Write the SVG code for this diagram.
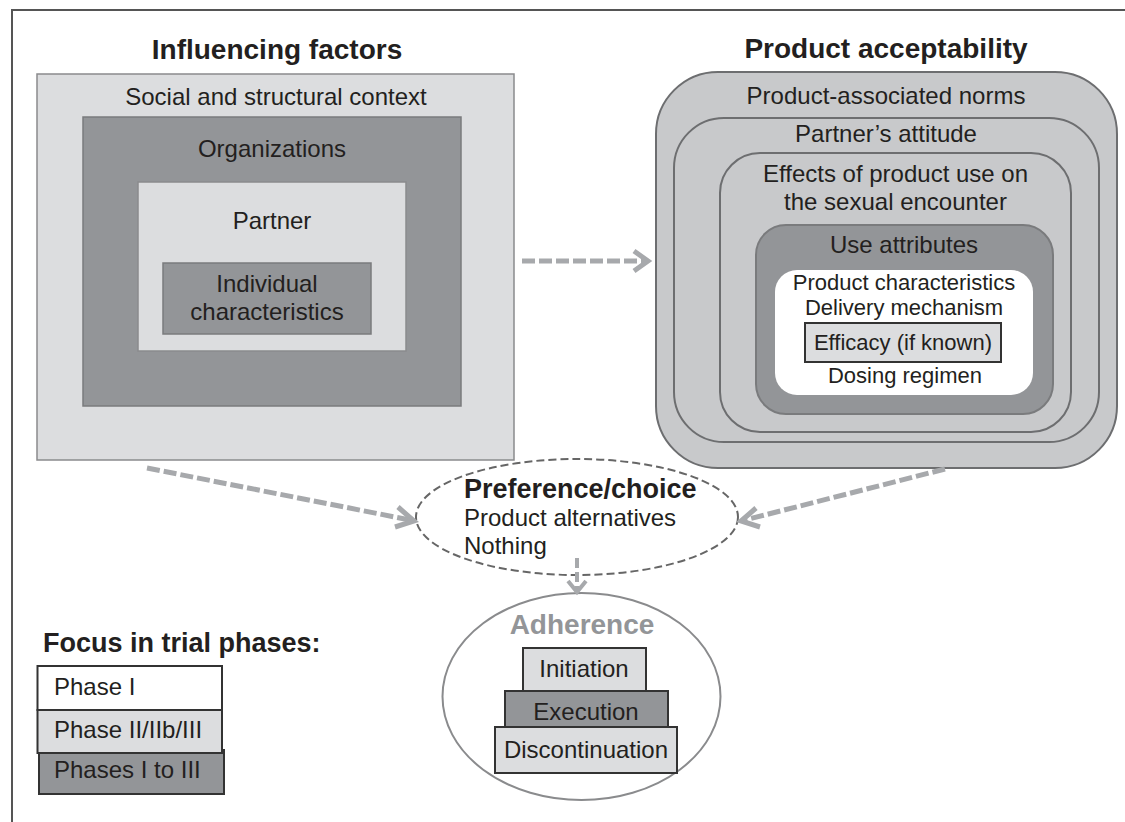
<svg xmlns="http://www.w3.org/2000/svg" width="1125" height="822" viewBox="0 0 1125 822">
<defs>
<style>
text{font-family:"Liberation Sans",Arial,sans-serif;fill:#231f20;}
.t24{font-size:24px;text-anchor:middle;}
.t22{font-size:22px;text-anchor:middle;}
.title{font-size:28px;font-weight:bold;text-anchor:middle;}
.lb{fill:#dcdddf;stroke:#8a8b8d;stroke-width:1.5;}
.db{fill:#939598;stroke:#7a7b7d;stroke-width:1.5;}
.ring{fill:#c8c9cb;stroke:#6d6e70;stroke-width:2;}
.step{stroke:#333;stroke-width:2;}
.conn{fill:none;stroke:#a7a9ac;stroke-width:5;stroke-dasharray:13 4;}
.head{fill:none;stroke:#a7a9ac;stroke-width:5;stroke-linejoin:miter;}
</style>
</defs>
<rect width="1125" height="822" fill="#ffffff"/>
<path d="M12,822 V10 H1125" fill="none" stroke="#555" stroke-width="2"/>

<g id="influencing-factors">
<text class="title" x="277" y="59">Influencing factors</text>
<g id="social-context">
<rect class="lb" x="37" y="74" width="477" height="386"/>
<text class="t24" x="276" y="105">Social and structural context</text>
</g>
<g id="organizations">
<rect class="db" x="83" y="117" width="378" height="289"/>
<text class="t24" x="272" y="157">Organizations</text>
</g>
<g id="partner">
<rect class="lb" x="138" y="182" width="268" height="169"/>
<text class="t24" x="272" y="229">Partner</text>
</g>
<g id="individual">
<rect class="db" x="163" y="263" width="208" height="71"/>
<text class="t24" x="267" y="292">Individual</text>
<text class="t24" x="267" y="320">characteristics</text>
</g>
</g>

<g id="product-acceptability">
<text class="title" x="886" y="58">Product acceptability</text>
<g id="norms">
<rect class="ring" x="656" y="72" width="461" height="396" rx="62" ry="62"/>
<text class="t24" x="886" y="104">Product-associated norms</text>
</g>
<g id="partners-attitude">
<rect class="ring" x="674" y="118" width="425" height="324" rx="50" ry="50"/>
<text class="t24" x="886" y="142">Partner’s attitude</text>
</g>
<g id="effects">
<rect class="ring" x="720" y="153" width="351" height="279" rx="40" ry="40"/>
<text class="t24" x="895.5" y="182">Effects of product use on</text>
<text class="t24" x="895.5" y="210">the sexual encounter</text>
</g>
<g id="use-attributes">
<rect x="756" y="225" width="297" height="189" rx="30" ry="30" fill="#939598" stroke="#7a7b7d" stroke-width="2"/>
<text class="t24" x="904" y="253">Use attributes</text>
</g>
<g id="product-characteristics">
<rect x="775" y="270" width="258" height="125" rx="22" ry="22" fill="#ffffff"/>
<text class="t22" x="904" y="290">Product characteristics</text>
<text class="t22" x="904" y="315">Delivery mechanism</text>
<rect x="805" y="323" width="196" height="39" fill="#dcdddf" stroke="#333" stroke-width="2"/>
<text class="t22" x="903" y="350">Efficacy (if known)</text>
<text class="t22" x="905" y="383">Dosing regimen</text>
</g>
</g>

<g id="preference">
<ellipse cx="577" cy="517" rx="161" ry="58" fill="#ffffff" stroke="#666" stroke-width="2" stroke-dasharray="8 4"/>
<text x="464" y="498" style="font-size:27px;font-weight:bold;">Preference/choice</text>
<text x="464" y="526" style="font-size:24px;">Product alternatives</text>
<text x="464" y="554" style="font-size:24px;">Nothing</text>
</g>

<g id="adherence">
<ellipse cx="581.5" cy="696.5" rx="139" ry="103.5" fill="#ffffff" stroke="#8a8b8d" stroke-width="2"/>
<text class="title" x="582" y="634" style="fill:#939598;">Adherence</text>
<g id="initiation">
<rect class="step" x="523" y="648" width="123" height="43" fill="#dcdddf"/>
<text class="t24" x="584" y="677">Initiation</text>
</g>
<g id="execution">
<rect class="step" x="505" y="691" width="163" height="36" fill="#939598"/>
<text class="t24" x="586" y="720">Execution</text>
</g>
<g id="discontinuation">
<rect class="step" x="495" y="727" width="182" height="46" fill="#dcdddf"/>
<text class="t24" x="586" y="758">Discontinuation</text>
</g>
</g>

<g id="legend">
<text x="43" y="652" style="font-size:27px;font-weight:bold;">Focus in trial phases:</text>
<g id="phases-1-3">
<rect class="step" x="39" y="750" width="185" height="44" fill="#939598"/>
<text x="54" y="778" style="font-size:24px;">Phases I to III</text>
</g>
<g id="phase-1">
<rect class="step" x="37.5" y="666" width="184.5" height="44" fill="#ffffff"/>
<text x="54" y="695" style="font-size:24px;">Phase I</text>
</g>
<g id="phase-2">
<rect class="step" x="37.5" y="710" width="184.5" height="43" fill="#dcdddf"/>
<text x="54" y="738" style="font-size:24px;">Phase II/IIb/III</text>
</g>
</g>

<g id="connectors">
<path class="conn" d="M522,261 H646"/>
<path class="head" d="M634,251 L648,261 L634,271"/>
<path class="conn" d="M147,468 L410,520"/>
<path class="head" d="M398,507 L414,521 L395,527"/>
<path class="conn" d="M945,469 L745,520"/>
<path class="head" d="M760,527 L741,521 L756,508"/>
<path class="conn" d="M577,558 V590" style="stroke-width:4;stroke-dasharray:10 4;"/>
<path class="head" d="M568,581 L577,592 L586,581" style="stroke-width:4;"/>
</g>
</svg>
